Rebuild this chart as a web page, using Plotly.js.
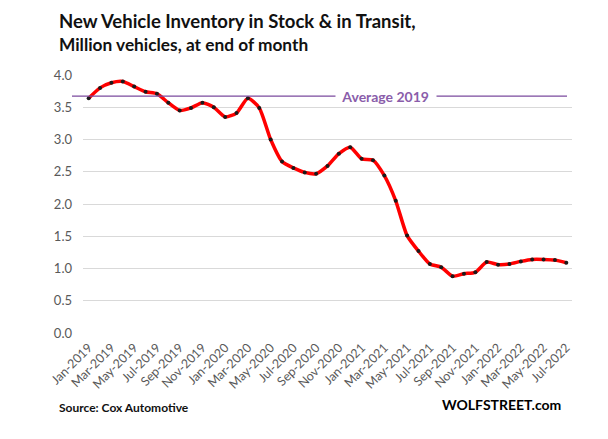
<!DOCTYPE html>
<html>
<head>
<meta charset="utf-8">
<script src="https://cdn.plot.ly/plotly-3.0.1.min.js"></script>
<style>html,body{margin:0;padding:0;background:#fff;}#chart{width:608px;height:439px;}</style>
</head>
<body>
<div id="chart"></div>
<script>
const months = [
  "Jan-2019","Feb-2019","Mar-2019","Apr-2019","May-2019","Jun-2019","Jul-2019","Aug-2019","Sep-2019","Oct-2019","Nov-2019","Dec-2019",
  "Jan-2020","Feb-2020","Mar-2020","Apr-2020","May-2020","Jun-2020","Jul-2020","Aug-2020","Sep-2020","Oct-2020","Nov-2020","Dec-2020",
  "Jan-2021","Feb-2021","Mar-2021","Apr-2021","May-2021","Jun-2021","Jul-2021","Aug-2021","Sep-2021","Oct-2021","Nov-2021","Dec-2021",
  "Jan-2022","Feb-2022","Mar-2022","Apr-2022","May-2022","Jun-2022","Jul-2022"
];
const inventory = [
  3.64,3.80,3.88,3.90,3.82,3.74,3.71,3.57,3.45,3.49,3.57,3.50,
  3.35,3.41,3.64,3.49,3.00,2.66,2.56,2.49,2.47,2.59,2.78,2.88,
  2.70,2.68,2.44,2.05,1.51,1.27,1.07,1.02,0.88,0.92,0.94,1.10,
  1.06,1.07,1.11,1.14,1.14,1.13,1.09
];
const tickLabels = months.filter((m, i) => i % 2 === 0);
const yTicks = [0, 0.5, 1.0, 1.5, 2.0, 2.5, 3.0, 3.5, 4.0];
const avgLabel = "Average 2019";
const avg2019 = inventory.slice(0, 12).reduce((a, b) => a + b, 0) / 12;

const FONT = "Lato, 'Open Sans', sans-serif";

// Pixel helpers for the 608x439 page
const ML = 83, MR = 36, MT = 75, MB = 106;
const plotW = 608 - ML - MR, plotH = 439 - MT - MB;
function px(x) { return (x - ML) / plotW; }
function py(y) { return (439 - MB - y) / plotH; }

const trace = {
  type: "scatter",
  mode: "lines+markers",
  x: months,
  y: inventory,
  line: {color: "#FF0000", width: 3.5, shape: "spline", smoothing: 0.6},
  marker: {color: "#1a1a1a", size: 4},
  hoverinfo: "x+y"
};

const layout = {
  width: 608, height: 439,
  margin: {l: ML, r: MR, t: MT, b: MB},
  paper_bgcolor: "#ffffff", plot_bgcolor: "#ffffff",
  showlegend: false,
  font: {family: FONT, color: "#595959", size: 13},
  xaxis: {
    type: "category",
    range: [-0.5, months.length - 0.5],
    tickmode: "array",
    tickvals: tickLabels,
    ticktext: tickLabels,
    tickangle: -45,
    showgrid: false, zeroline: false, showline: false,
    ticks: "", ticklabelstandoff: 4,
    tickfont: {family: FONT, size: 12.5, color: "#595959"}
  },
  yaxis: {
    range: [0, 4.0],
    tickmode: "array",
    tickvals: yTicks,
    ticktext: yTicks.map(v => v.toFixed(1)),
    showgrid: true, gridcolor: "#D9D9D9", gridwidth: 1,
    zeroline: false, showline: false, ticks: "",
    ticklabelstandoff: 10,
    tickfont: {family: FONT, size: 13, color: "#595959"}
  },
  shapes: [{
    type: "line", xref: "paper", yref: "y",
    x0: px(72), x1: px(567), y0: avg2019, y1: avg2019,
    line: {color: "#7B4A9E", width: 1.2}
  }],
  annotations: [
    {text: "<b>New Vehicle Inventory in Stock &amp; in Transit,</b>",
     xref: "paper", yref: "paper", x: px(57), y: py(8),
     xanchor: "left", yanchor: "top", showarrow: false,
     font: {family: FONT, size: 18.5, color: "#111111"}},
    {text: "<b>Million vehicles, at end of month</b>",
     xref: "paper", yref: "paper", x: px(57), y: py(32),
     xanchor: "left", yanchor: "top", showarrow: false,
     font: {family: FONT, size: 17.3, color: "#111111"}},
    {text: "<b>&nbsp;&nbsp;" + avgLabel + "&nbsp;&nbsp;</b>",
     xref: "paper", yref: "y", x: px(386), y: avg2019,
     xanchor: "center", yanchor: "middle", showarrow: false,
     bgcolor: "#ffffff", borderpad: 0,
     font: {family: FONT, size: 14, color: "#8A5DAA"}},
    {text: "<b>Source: Cox Automotive</b>",
     xref: "paper", yref: "paper", x: px(57), y: py(407),
     xanchor: "left", yanchor: "middle", showarrow: false,
     font: {family: FONT, size: 12, color: "#111111"}},
    {text: "<b>WOLFSTREET.com</b>",
     xref: "paper", yref: "paper", x: px(440), y: py(404),
     xanchor: "left", yanchor: "middle", showarrow: false,
     font: {family: FONT, size: 14, color: "#000000"}}
  ]
};

Plotly.newPlot("chart", [trace], layout, {displayModeBar: false, staticPlot: true});
</script>
</body>
</html>
